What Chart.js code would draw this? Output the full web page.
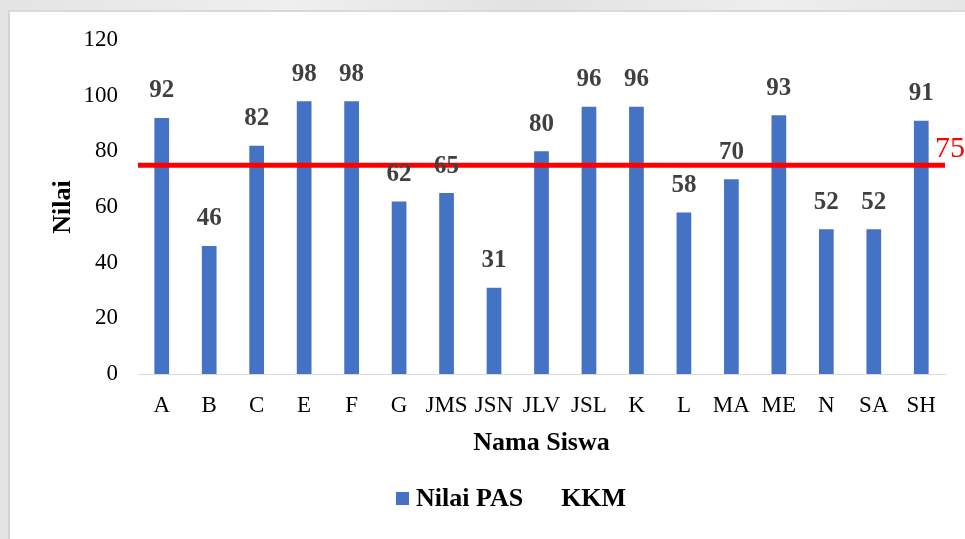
<!DOCTYPE html>
<html>
<head>
<meta charset="utf-8">
<script src="https://cdn.jsdelivr.net/npm/chart.js@4.4.1/dist/chart.umd.min.js"></script>
<style>
  html, body { margin: 0; padding: 0; width: 965px; height: 539px; overflow: hidden;
    background: linear-gradient(90deg, #e4e4e4 0%, #efefef 30%, #e2e2e2 55%, #eeeeee 80%, #e6e6e6 100%); }
  #card { position: absolute; left: 8px; top: 10px; width: 957px; height: 529px;
    background: #fff; border-left: 2px solid #d4d4d4; border-top: 2px solid #d9d9d9; box-sizing: border-box; }
  #card canvas { position: absolute; left: -2px; top: -2px; }
</style>
</head>
<body>
<div id="card"><canvas id="c" width="957" height="529"></canvas></div>
<script>
// Student names (initials) and their PAS scores
const students = ['A','B','C','E','F','G','JMS','JSN','JLV','JSL','K','L','MA','ME','N','SA','SH'];
const nilaiPAS = [92, 46, 82, 98, 98, 62, 65, 31, 80, 96, 96, 58, 70, 93, 52, 52, 91];
// Minimum passing score (KKM)
const kkmValue = 75;
const kkm = students.map(() => kkmValue);
const yTicks = [0, 20, 40, 60, 80, 100, 120];

const SERIF = '"Liberation Serif", "Times New Roman", serif';
const BLUE = '#4472C4';
const RED = '#FF0000';

// Values above each bar
const barValueLabels = {
  id: 'barValueLabels',
  afterDatasetsDraw(chart) {
    const meta = chart.getDatasetMeta(0);
    const ctx = chart.ctx;
    ctx.save();
    ctx.font = 'bold 25px ' + SERIF;
    ctx.fillStyle = '#404040';
    ctx.textAlign = 'center';
    ctx.textBaseline = 'middle';
    meta.data.forEach((bar, i) => {
      ctx.fillText(String(nilaiPAS[i]), bar.x, bar.y - 27);
    });
    ctx.restore();
  }
};

// KKM value written at the right end of the red line
const kkmLabel = {
  id: 'kkmLabel',
  afterDatasetsDraw(chart) {
    const meta = chart.getDatasetMeta(1);
    const last = meta.data[meta.data.length - 1];
    const ctx = chart.ctx;
    ctx.save();
    ctx.font = '30px ' + SERIF;
    ctx.fillStyle = RED;
    ctx.textAlign = 'left';
    ctx.textBaseline = 'middle';
    ctx.fillText(String(kkmValue), last.x - 10, last.y - 16);
    ctx.restore();
  }
};

// Legend row under the axis title
const bottomLegend = {
  id: 'bottomLegend',
  afterDraw(chart) {
    const ctx = chart.ctx;
    const ds = chart.data.datasets;
    ctx.save();
    ctx.font = 'bold 26px ' + SERIF;
    ctx.textBaseline = 'middle';
    ctx.textAlign = 'left';
    const y = 488;
    let x = 388;
    // bar series: square marker + text
    ctx.fillStyle = BLUE;
    ctx.fillRect(x, y - 6, 13, 13);
    x += 20;
    ctx.fillStyle = '#000';
    ctx.fillText(ds[0].label, x, y + 1);
    x += ctx.measureText(ds[0].label).width + 38;
    // line series: text only
    ctx.fillText(ds[1].label, x, y + 1);
    ctx.restore();
  }
};

new Chart(document.getElementById('c'), {
  data: {
    labels: students,
    datasets: [
      {
        type: 'bar',
        label: 'Nilai PAS',
        data: nilaiPAS,
        backgroundColor: BLUE,
        grouped: false,
        barPercentage: 0.31,
        categoryPercentage: 1.0,
        order: 2
      },
      {
        type: 'line',
        label: 'KKM',
        data: kkm,
        xAxisID: 'x2',
        borderColor: RED,
        borderWidth: 5,
        pointRadius: 0,
        fill: false,
        order: 1,
        clip: false
      }
    ]
  },
  options: {
    responsive: false,
    animation: false,
    layout: { padding: { left: 40, right: 20, top: 30, bottom: 80 } },
    plugins: {
      legend: { display: false },
      tooltip: { enabled: false }
    },
    scales: {
      x: {
        type: 'category',
        offset: true,
        grid: { display: false, drawTicks: false },
        border: { display: true, color: '#d9d9d9', width: 1 },
        ticks: { color: '#000', padding: 18, font: { family: SERIF, size: 23 }, maxRotation: 0, autoSkip: false },
        title: { display: true, text: 'Nama Siswa', color: '#000', padding: 0,
                 font: { family: SERIF, size: 26, weight: 'bold' } },
        afterFit(scale) { scale.height = 85; }
      },
      x2: {
        type: 'category',
        labels: students,
        offset: false,
        display: false
      },
      y: {
        min: 0,
        max: 120,
        afterBuildTicks(scale) { scale.ticks = yTicks.map(v => ({ value: v })); },
        grid: { display: false, drawTicks: false },
        border: { display: false },
        ticks: { color: '#000', padding: 20, font: { family: SERIF, size: 23 } },
        title: { display: true, text: 'Nilai', color: '#000', padding: 0,
                 font: { family: SERIF, size: 26, weight: 'bold' } },
        afterFit(scale) {
          scale.width = 90;
          scale.paddingTop = 0;
          scale.paddingBottom = 0;
        }
      }
    }
  },
  plugins: [barValueLabels, kkmLabel, bottomLegend]
});
</script>
</body>
</html>
